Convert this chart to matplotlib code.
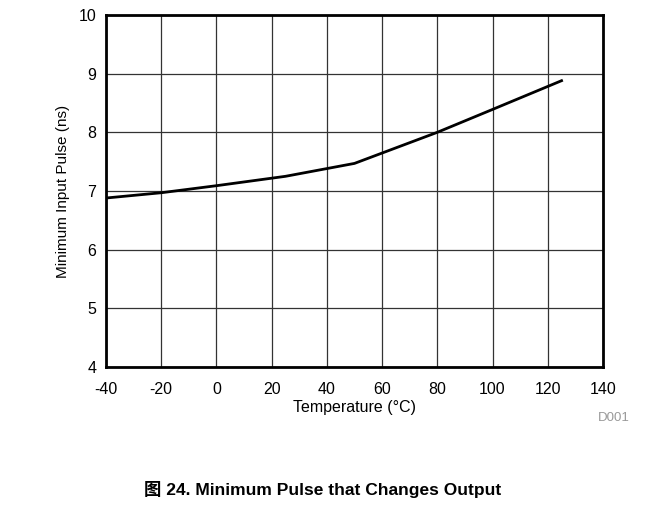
import matplotlib
matplotlib.use("Agg")
from matplotlib import pyplot as plt

temp = [-40, -20, 0, 25, 50, 80, 100, 125]
pulse = [6.88, 6.97, 7.09, 7.25, 7.47, 8.0, 8.39, 8.88]

xticks = [-40, -20, 0, 20, 40, 60, 80, 100, 120, 140]
yticks = [4, 5, 6, 7, 8, 9, 10]

plt.rcParams['font.family'] = ['Liberation Sans', 'Noto Sans CJK SC', 'DejaVu Sans']
plt.rcParams['axes.unicode_minus'] = False

fig = plt.figure(figsize=(6.69, 5.08), dpi=100)
ax = fig.add_axes([0.1584, 0.2776, 0.7429, 0.6929])

ax.plot(temp, pulse, color='black', linewidth=2)

ax.set_xlim(-40, 140)
ax.set_ylim(4, 10)
ax.set_xticks(xticks)
ax.set_yticks(yticks)
ax.tick_params(length=0, labelsize=11.5)
ax.tick_params(axis='x', pad=11)
ax.tick_params(axis='y', pad=7)
ax.grid(True, color='#333333', linewidth=0.9)
for s in ax.spines.values():
    s.set_linewidth(2)

ax.set_xlabel('Temperature (°C)', fontsize=11.5, labelpad=2)
ax.set_ylabel('Minimum Input Pulse (ns)', fontsize=11, labelpad=6)

fig.text(0.918, 0.177, 'D001', fontsize=9.5, color='#999999', ha='center', va='center')
fig.text(0.482, 0.037, '图 24. Minimum Pulse that Changes Output', fontsize=12.5,
         fontweight='bold', ha='center', va='center')

plt.savefig('out.png', dpi=100)
